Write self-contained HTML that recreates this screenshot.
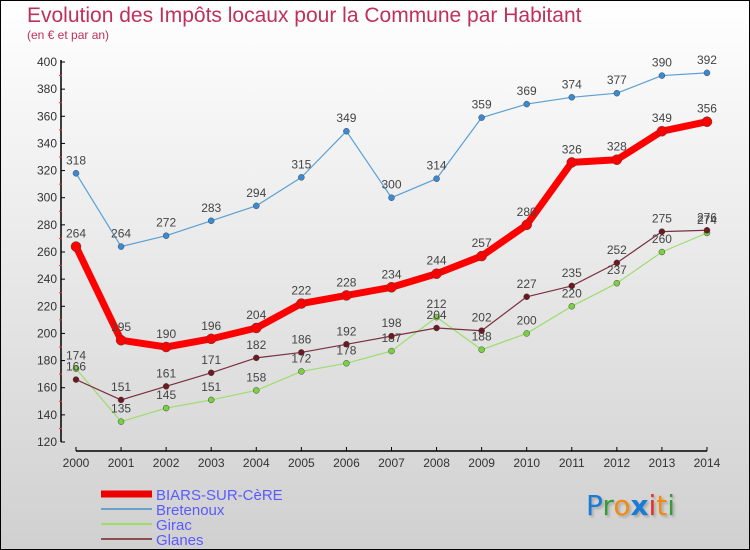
<!DOCTYPE html>
<html><head><meta charset="utf-8"><style>
body{margin:0;}
#wrap{position:relative;width:748px;height:548px;border:1px solid #000;background:linear-gradient(#fff,#d0d0d0);font-family:"Liberation Sans",sans-serif;overflow:hidden}
.t{position:absolute;color:#c0305a}
</style></head><body>
<div id="wrap">
<div class="t" style="left:26px;top:3px;font-size:21px">Evolution des Impôts locaux pour la Commune par Habitant</div>
<div class="t" style="left:26px;top:27px;font-size:12px">(en € et par an)</div>
<svg id="svg" width="748" height="548" style="position:absolute;left:0;top:0"></svg>
<div style="position:absolute;left:585px;top:488px;font-size:28px;font-family:'DejaVu Sans',sans-serif;text-shadow:2px 2px 2px #aaa"><span style="color:#1a7ad4">P</span><span style="color:#3a9a3a">r</span><span style="color:#f08a10">o</span><span style="color:#1a7ad4;font-weight:bold">x</span><span style="color:#e03020">i</span><span style="color:#f08a10">t</span><span style="color:#3a9a3a">i</span></div>
</div>
<script>
const years=[2000,2001,2002,2003,2004,2005,2006,2007,2008,2009,2010,2011,2012,2013,2014];
const biars=[264,195,190,196,204,222,228,234,244,257,280,326,328,349,356];
const bretenoux=[318,264,272,283,294,315,349,300,314,359,369,374,377,390,392];
const girac=[174,135,145,151,158,172,178,187,212,188,200,220,237,260,274];
const glanes=[166,151,161,171,182,186,192,198,204,202,227,235,252,275,276];
const yTicks=[120,140,160,180,200,220,240,260,280,300,320,340,360,380,400];
const NS="http://www.w3.org/2000/svg";
const svg=document.getElementById('svg');
const x=i=>75+i*45.07;
const y=v=>441-(v-120)*380/280;
function mk(t,a){const e=document.createElementNS(NS,t);for(const k in a)e.setAttribute(k,a[k]);svg.appendChild(e);return e;}
let e=mk('line',{x1:60,y1:59,x2:60,y2:441,stroke:'#000','stroke-width':1.5});

e=mk('line',{x1:75,y1:450,x2:706,y2:450,stroke:'#000','stroke-width':1.5});

yTicks.forEach((v,i)=>{mk('line',{x1:60,y1:y(v),x2:64,y2:y(v),stroke:'#000'});
if(i<yTicks.length-1)mk('line',{x1:58,y1:y(v+10),x2:61,y2:y(v+10),stroke:'#e33'});
const t=mk('text',{x:56,y:y(v)+4,'text-anchor':'end','font-size':12,fill:'#333'});t.textContent=v;
});
years.forEach((yr,i)=>{mk('line',{x1:x(i),y1:446,x2:x(i),y2:450,stroke:'#000'});
const t=mk('text',{x:x(i),y:466,'text-anchor':'middle','font-size':12,fill:'#333'});t.textContent=yr;
});
function series(d,color,w,r,fill,name){
const p=mk('polyline',{points:d.map((v,i)=>x(i)+','+y(v)).join(' '),fill:'none',stroke:color,'stroke-width':w,'stroke-linejoin':'round'});

d.forEach((v,i)=>{const c=mk('circle',{cx:x(i),cy:y(v),r:r,fill:fill,stroke:'#444','stroke-width':0.5});

const t=mk('text',{x:x(i),y:y(v)-9,'text-anchor':'middle','font-size':12,fill:'#444'});t.textContent=v;
});}
series(bretenoux,'#5a9fd4',1.2,3,'#3a8ad4','bretenoux');
series(girac,'#9ddd6a',1.2,3,'#7ad040','girac');
series(glanes,'#7a3040',1.2,3,'#6a1a20','glanes');
series(biars,'#f00',7,5,'#f00','biars');
const leg=[['BIARS-SUR-CèRE','#e00',7],['Bretenoux','#6aa0cc',2],['Girac','#9ddd6a',2],['Glanes','#8a5050',2]];
leg.forEach((l,i)=>{const yy=493+i*15;
const ln=mk('line',{x1:100,y1:yy,x2:151,y2:yy,stroke:l[1],'stroke-width':l[2]});

const t=mk('text',{x:155,y:yy+6,'font-size':15,fill:'#5a5aff'});t.textContent=l[0];
});
</script>
</body></html>
